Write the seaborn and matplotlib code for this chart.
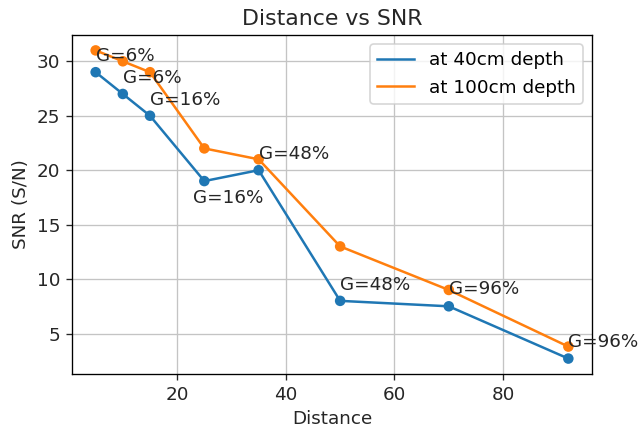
import matplotlib
matplotlib.use("Agg")
import matplotlib.pyplot as plt
import seaborn as sns
import pandas as pd

distance = [5, 10, 15, 25, 35, 50, 70, 92]
snr_40cm = [29, 27, 25, 19, 20, 8, 7.5, 2.7]
snr_100cm = [31, 30, 29, 22, 21, 13, 9, 3.8]
gain_labels = ["G=6%", "G=6%", "G=16%", "G=16%", "G=48%", "G=48%", "G=96%", "G=96%"]
label_x = [5, 10, 15, 23, 35, 50, 70, 92]
label_y = [30, 28, 26, 17, 21, 9, 8.6, 3.8]

df = pd.DataFrame({"Distance": distance, "d40": snr_40cm, "d100": snr_100cm})

plt.rcParams['font.family'] = ['DejaVu Sans']
DPI = 120
fig = plt.figure(figsize=(639 / DPI, 431 / DPI), dpi=DPI)
ax = fig.add_axes([0.1127, 0.1323, 0.8137, 0.7865])

blue = "#1f77b4"
orange = "#ff7f0e"
sns.lineplot(data=df, x="Distance", y="d40", ax=ax, color=blue, label="at 40cm depth", linewidth=1.5)
sns.lineplot(data=df, x="Distance", y="d100", ax=ax, color=orange, label="at 100cm depth", linewidth=1.5)
sns.scatterplot(data=df, x="Distance", y="d40", ax=ax, color=blue, s=40, edgecolor="none", legend=False, zorder=3)
sns.scatterplot(data=df, x="Distance", y="d100", ax=ax, color=orange, s=40, edgecolor="none", legend=False, zorder=3)

for t, x, y in zip(gain_labels, label_x, label_y):
    ax.text(x, y, t, fontsize=11, color="#262626")

ax.set_title("Distance vs SNR", fontsize=13.2, color="#262626")
ax.set_xlabel("Distance", fontsize=11, color="#262626")
ax.set_ylabel("SNR (S/N)", fontsize=11, color="#262626")
ax.tick_params(labelsize=11, colors="#262626")
ax.set_xticks([20, 40, 60, 80])
ax.set_yticks([5, 10, 15, 20, 25, 30])
ax.grid(True, color="#c4c4c4", linewidth=0.8)
ax.set_axisbelow(True)
ax.legend(loc="upper right", fontsize=11)

fig.savefig("out.png", dpi=DPI)
